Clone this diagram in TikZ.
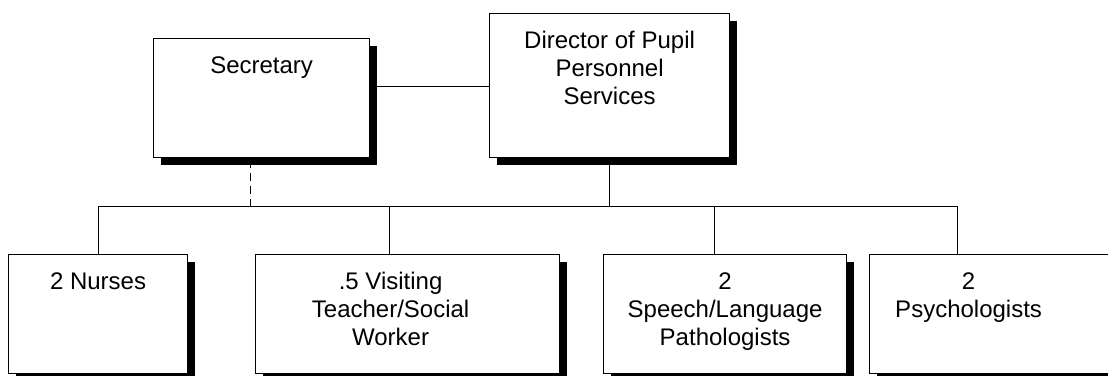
\documentclass[tikz,border=0pt]{standalone}
\usepackage{fontspec}
\setmainfont{Liberation Sans}
\usetikzlibrary{shadows}

\newcommand{\unittext}[4]{\parbox[c][#2][t]{#1}{\rule{0pt}{35pt}\parbox[t]{#3}{\centering #4}}}

\begin{document}
\begin{tikzpicture}
        [x=1pt, y=-1pt, every node/.style={draw, fill=white, anchor=north west, inner sep=0, line width=1.2pt, font=\fontsize{24}{28}\selectfont, drop shadow={shadow xshift=7pt, shadow yshift=-7pt, fill=black, opacity=1}}, link/.style={line width=1pt}]

        \clip (0,0) rectangle (1108,375);

        \node (sec) at (153,38) {\unittext{216pt}{119pt}{216pt}{Secretary}};
        \node (dir) at (489,13) {\unittext{240pt}{144pt}{240pt}{Director of Pupil\\Personnel\\Services}};
        \node (nur) at (8,254) {\unittext{179pt}{119pt}{179pt}{2 Nurses}};
        \node (vis) at (255,254) {\unittext{304pt}{119pt}{270pt}{.5 Visiting\\Teacher/Social\\Worker}};
        \node (spe) at (603,254) {\unittext{243pt}{119pt}{243pt}{2\\Speech/Language\\Pathologists}};
        \node (psy) at (869,254) {\unittext{270pt}{119pt}{198pt}{2\\Psychologists}};

        \draw[link] (sec.east |- 0,86) -- (dir.west |- 0,86);
        \draw[link] (dir.south) -- (dir.south |- 0,206);
        \draw[link] (nur.north) |- (957,206) -- (psy.north -| 957,0);
        \draw[link] (vis.north -| 389,0) -- (389,206);
        \draw[link] (spe.north -| 714,0) -- (714,206);
        \draw[link, dash pattern=on 8pt off 5pt, dash phase=11pt] (sec.south -| 250,0) -- (250,206);

      \end{tikzpicture}
\end{document}
